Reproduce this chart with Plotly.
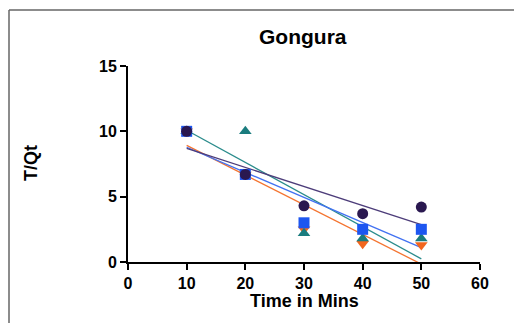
import numpy as np
import plotly.graph_objects as go

# Time points (minutes) and T/Qt readings for each replicate series
time_min = [10, 20, 30, 40, 50]
series_purple = [10.0, 6.7, 4.3, 3.7, 4.2]
series_blue = [10.0, 6.7, 3.0, 2.5, 2.5]
series_teal = [10.0, 10.0, 2.2, 1.8, 1.8]
series_orange = [10.0, 6.7, 2.5, 1.4, 1.3]

x_ticks = [0, 10, 20, 30, 40, 50, 60]
y_ticks = [0, 5, 10, 15]

# (values, marker colour, line colour, marker symbol) — drawn bottom to top
series = [
    (series_orange, "#f2661e", "#f47430", "triangle-down"),
    (series_teal, "#1a7c7e", "#2b8c8c", "triangle-up"),
    (series_blue, "#1d56f0", "#4272f2", "square"),
    (series_purple, "#2a1850", "#4d3d7a", "circle"),
]

fig = go.Figure()
xs = np.array(time_min, dtype=float)
for vals, mcol, lcol, sym in series:
    ys = np.array(vals, dtype=float)
    slope, intercept = np.polyfit(xs, ys, 1)
    fx = np.array([xs.min(), xs.max()])
    fig.add_trace(go.Scatter(x=fx, y=slope * fx + intercept, mode="lines",
                             line=dict(color=lcol, width=1.3),
                             showlegend=False, hoverinfo="skip"))
for vals, mcol, lcol, sym in series:
    fig.add_trace(go.Scatter(x=time_min, y=vals, mode="markers",
                             marker=dict(symbol=sym, size=11, color=mcol,
                                         line=dict(width=0)),
                             showlegend=False))

axis_font = dict(family="Arial, Liberation Sans, sans-serif", size=16,
                 color="black", weight="bold")

fig.update_xaxes(range=[0, 60], tickvals=x_ticks, ticks="outside",
                 ticklen=6, tickwidth=2, tickcolor="black",
                 showline=True, linecolor="black", linewidth=2,
                 showgrid=False, zeroline=False, tickfont=axis_font)
fig.update_yaxes(range=[0, 15], tickvals=y_ticks, ticks="outside",
                 ticklen=6, tickwidth=2, tickcolor="black",
                 showline=True, linecolor="black", linewidth=2,
                 showgrid=False, zeroline=False, tickfont=axis_font)

L, R, T, B = 128, 35, 66, 61
W, H = 515, 323
pw, ph = W - L - R, H - T - B


def px(xp):
    return (xp - L) / pw


def py(yp):
    return (H - B - yp) / ph


# thin frame along the top and left of the figure
fig.add_shape(type="line", xref="paper", yref="paper",
              x0=px(9), x1=px(514), y0=py(10), y1=py(10),
              line=dict(color="#666666", width=1.5))
fig.add_shape(type="line", xref="paper", yref="paper",
              x0=px(9), x1=px(9), y0=py(10), y1=py(323),
              line=dict(color="#666666", width=1.5))

title_font = dict(family="Arial, Liberation Sans, sans-serif",
                  color="black", weight="bold")
fig.add_annotation(text="Gongura", xref="paper", yref="paper",
                   x=px(303), y=py(37), xanchor="center", yanchor="middle",
                   showarrow=False, font=dict(size=21, **title_font))
fig.add_annotation(text="Time in Mins", xref="paper", yref="paper",
                   x=px(304), y=py(301), xanchor="center", yanchor="middle",
                   showarrow=False, font=dict(size=18, **title_font))
fig.add_annotation(text="T/Qt", xref="paper", yref="paper",
                   x=px(31), y=py(163), xanchor="center", yanchor="middle",
                   showarrow=False, textangle=-90,
                   font=dict(size=18, **title_font))

fig.update_layout(width=W, height=H,
                  margin=dict(l=L, r=R, t=T, b=B),
                  paper_bgcolor="white", plot_bgcolor="white")

fig.write_html("out.html")
